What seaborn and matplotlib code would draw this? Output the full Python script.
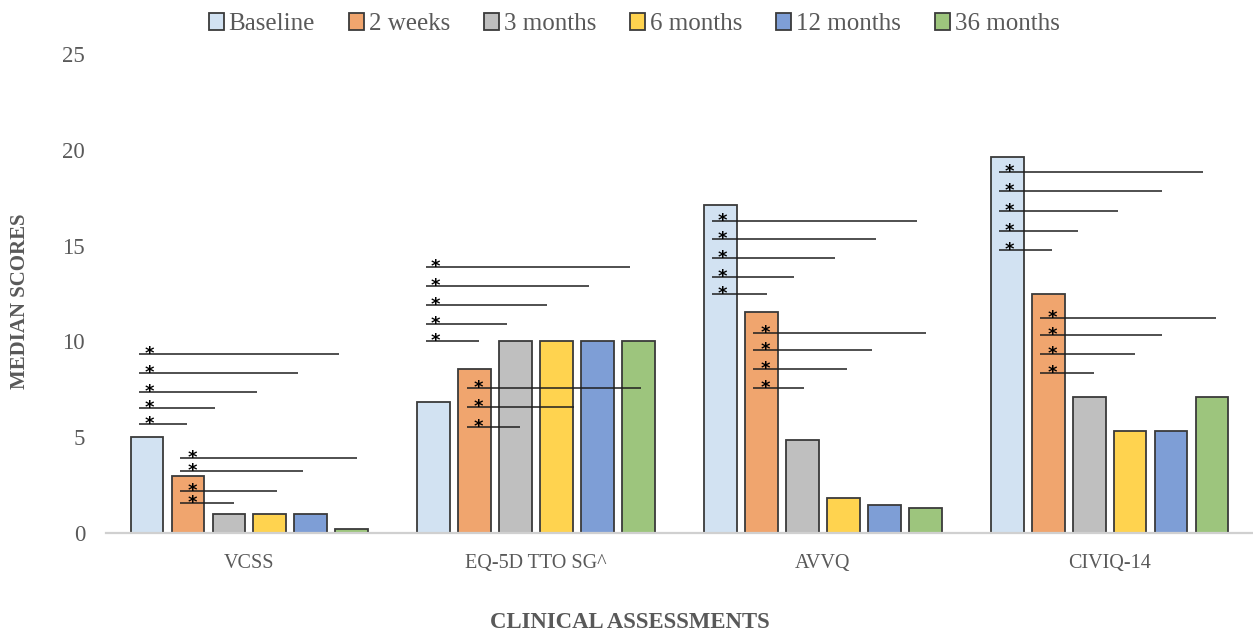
import matplotlib
matplotlib.use("Agg")
import matplotlib.pyplot as plt
import seaborn as sns
import pandas as pd

# Median scores per clinical assessment at each follow-up time point
assessments = ["VCSS", "EQ-5D TTO SG^", "AVVQ", "CIVIQ-14"]
timepoints = ["Baseline", "2 weeks", "3 months", "6 months", "12 months", "36 months"]
vcss = [5.0, 3.0, 1.0, 1.0, 1.0, 0.2]
eq5d = [6.85, 8.55, 10.0, 10.0, 10.0, 10.0]
avvq = [17.1, 11.55, 4.85, 1.83, 1.46, 1.3]
civiq = [19.6, 12.5, 7.1, 5.35, 5.35, 7.1]

colors = ["#D2E2F2", "#F0A56E", "#BFBFBF", "#FFD34F", "#7E9ED6", "#9DC57D"]

# Significance comparisons: heights of the comparison lines and where each
# line ends (offset from the group centre, in category units)
sig_from_baseline = {
    "VCSS": ([5.7, 6.5, 7.34, 8.35, 9.34], [-0.218, -0.120, 0.027, 0.169, 0.312]),
    "EQ-5D TTO SG^": ([10.03, 10.9, 11.88, 12.9, 13.87], [-0.199, -0.101, 0.038, 0.185, 0.328]),
    "AVVQ": ([12.47, 13.34, 14.33, 15.32, 16.29], [-0.196, -0.100, 0.041, 0.184, 0.328]),
    "CIVIQ-14": ([14.78, 15.75, 16.83, 17.84, 18.83], [-0.202, -0.111, 0.030, 0.181, 0.324]),
}
sig_from_2weeks = {
    "VCSS": ([1.55, 2.19, 3.25, 3.93], [-0.054, 0.096, 0.187, 0.375]),
    "EQ-5D TTO SG^": ([5.55, 6.56, 7.55], [-0.056, 0.132, 0.366]),
    "AVVQ": ([7.55, 8.54, 9.53, 10.45], [-0.067, 0.083, 0.173, 0.361]),
    "CIVIQ-14": ([8.33, 9.32, 10.31, 11.2], [-0.053, 0.090, 0.184, 0.371]),
}

values = [vcss, eq5d, avvq, civiq]
df = pd.DataFrame(
    [(a, t, v) for a, vals in zip(assessments, values) for t, v in zip(timepoints, vals)],
    columns=["assessment", "timepoint", "score"],
)

sns.set_style("white")
plt.rcParams["font.family"] = ["Liberation Serif", "DejaVu Serif"]

fig = plt.figure(figsize=(12.53, 6.34), dpi=100)
ax = fig.add_axes([0.0846, 0.1593, 0.9154, 0.7555])

sns.barplot(
    data=df, x="assessment", y="score", hue="timepoint",
    order=assessments, hue_order=timepoints, palette=colors,
    width=0.857, gap=0.2, edgecolor="#3a3a3a", linewidth=1.3,
    errorbar=None, ax=ax, saturation=1, legend=True,
)

ax.set_xlim(-0.5, 3.5)
ax.set_ylim(0, 25)
ax.set_yticks([0, 5, 10, 15, 20, 25])
for s in ["top", "right", "left"]:
    ax.spines[s].set_visible(False)
ax.spines["bottom"].set_color("#D0D0D0")
ax.spines["bottom"].set_linewidth(1.6)
ax.tick_params(axis="both", length=0, colors="#595959")
ax.tick_params(axis="y", pad=15, labelsize=16.5)
ax.tick_params(axis="x", pad=15, labelsize=14.5)

ax.set_ylabel("")
ax.set_xlabel("")
fig.text(20 / 1253, 1 - 301 / 634, "MEDIAN SCORES", rotation=90, ha="center", va="center",
         fontsize=15, fontweight="bold", color="#595959")
fig.text(630 / 1253, 1 - 622 / 634, "CLINICAL ASSESSMENTS", ha="center", va="center",
         fontsize=16.4, fontweight="bold", color="#595959")

# Significance lines and asterisks
def draw_sig(center, start, star_x, heights, ends):
    for y, e in zip(heights, ends):
        ax.plot([center + start, center + e], [y, y], color="#1f1f1f", lw=1.1,
                zorder=5, solid_capstyle="butt")
        ax.annotate("*", xy=(center + star_x, y), xytext=(0, -3.6),
                    textcoords="offset points", ha="center", va="baseline",
                    fontsize=13, fontweight="bold", color="black",
                    family="DejaVu Sans", zorder=6)

for i, a in enumerate(assessments):
    h, e = sig_from_baseline[a]
    draw_sig(i, -0.385, -0.35, h, e)
    h, e = sig_from_2weeks[a]
    draw_sig(i, -0.242, -0.20, h, e)

handles, labels = ax.get_legend_handles_labels()
ax.legend(
    handles, labels, loc="center", bbox_to_anchor=(0.506, 1 - 24 / 634),
    bbox_transform=fig.transFigure, ncol=6, frameon=False, fontsize=18,
    handlelength=0.6, handleheight=0.65, handletextpad=0.2, columnspacing=1.35,
    labelcolor="#595959", borderaxespad=0.0, borderpad=0.0,
)

fig.savefig("out.png", dpi=100)
